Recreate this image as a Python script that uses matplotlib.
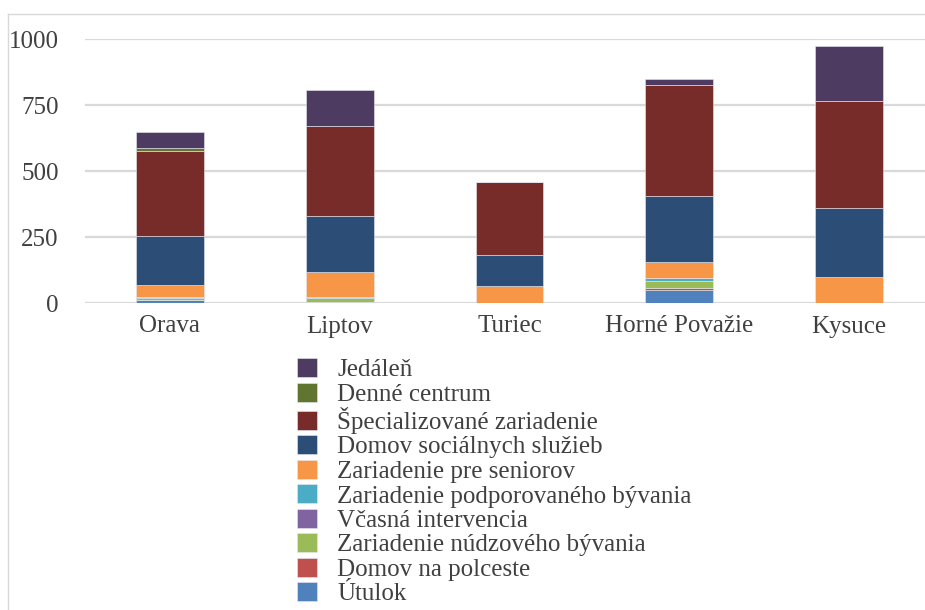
import matplotlib
matplotlib.use("Agg")
import matplotlib.pyplot as plt
from matplotlib.patches import Patch
import numpy as np

# data
regions = ['Orava', 'Liptov', 'Turiec', 'Horné Považie', 'Kysuce']

utulok        = [13, 4, 0, 48, 0]
polceste      = [0, 0, 0, 9, 0]
nudzove       = [6, 14, 0, 25, 0]
vcasna        = [0, 0, 0, 0, 0]
podporovane   = [4, 3, 0, 11, 0]
seniori       = [45, 95, 63, 61, 100]
dss           = [186, 212, 119, 251, 258]
specializovane = [322, 342, 277, 421, 407]
denne         = [10, 0, 0, 0, 0]
jedalen       = [63, 136, 0, 22, 209]

series = [
    ('Útulok', utulok, '#4F81BD'),
    ('Domov na polceste', polceste, '#C0504D'),
    ('Zariadenie núdzového bývania', nudzove, '#9BBB59'),
    ('Včasná intervencia', vcasna, '#8064A2'),
    ('Zariadenie podporovaného bývania', podporovane, '#4BACC6'),
    ('Zariadenie pre seniorov', seniori, '#F79646'),
    ('Domov sociálnych služieb', dss, '#2C4D75'),
    ('Špecializované zariadenie', specializovane, '#772C2A'),
    ('Denné centrum', denne, '#5F7530'),
    ('Jedáleň', jedalen, '#4D3B62'),
]

plt.rcParams['font.family'] = ['Liberation Serif', 'DejaVu Serif']

fig = plt.figure(figsize=(9.25, 6.1), dpi=100)
W, H = 925, 610
ax = fig.add_axes([85 / W, (H - 303) / H, 849 / W, 264 / H])

x = np.arange(len(regions))
bottom = np.zeros(len(regions))
for name, vals, col in series:
    ax.bar(x, vals, 0.4, bottom=bottom, color=col, label=name,
           edgecolor='#E8E8F0', linewidth=0.4, zorder=3)
    bottom += np.array(vals)

ax.set_xlim(-0.5, 4.5)
ax.set_ylim(0, 1000)
ax.set_yticks([0, 250, 500, 750, 1000])
ax.set_xticks(x)
ax.set_xticklabels(regions)
ax.yaxis.grid(True, color='#D9D9D9', linewidth=1.6, zorder=0)
ax.set_axisbelow(True)
for s in ax.spines.values():
    s.set_visible(False)
ax.tick_params(axis='both', length=0, labelsize=18, colors='#404040')
ax.tick_params(axis='y', pad=19)
ax.tick_params(axis='x', pad=9)

# legend, reversed order like the original
handles = [Patch(facecolor=c, edgecolor='#E8E8F0', linewidth=0.4) for _, _, c in series][::-1]
labels = [n for n, _, _ in series][::-1]
fig.legend(handles, labels, loc='upper left', bbox_to_anchor=(297 / W, 1 - 358 / H),
           frameon=False, fontsize=18, labelcolor='#404040',
           handlelength=0.8, handleheight=0.8, handletextpad=0.8,
           labelspacing=0.05, borderpad=0, borderaxespad=0)

# light frame around the chart area
fig.add_artist(plt.Line2D([8 / W, 8 / W], [0, 1 - 14 / H], transform=fig.transFigure,
                          color='#D9D9D9', linewidth=1))
fig.add_artist(plt.Line2D([8 / W, 1], [1 - 14 / H, 1 - 14 / H], transform=fig.transFigure,
                          color='#D9D9D9', linewidth=1))

fig.savefig('out.png', dpi=100)
